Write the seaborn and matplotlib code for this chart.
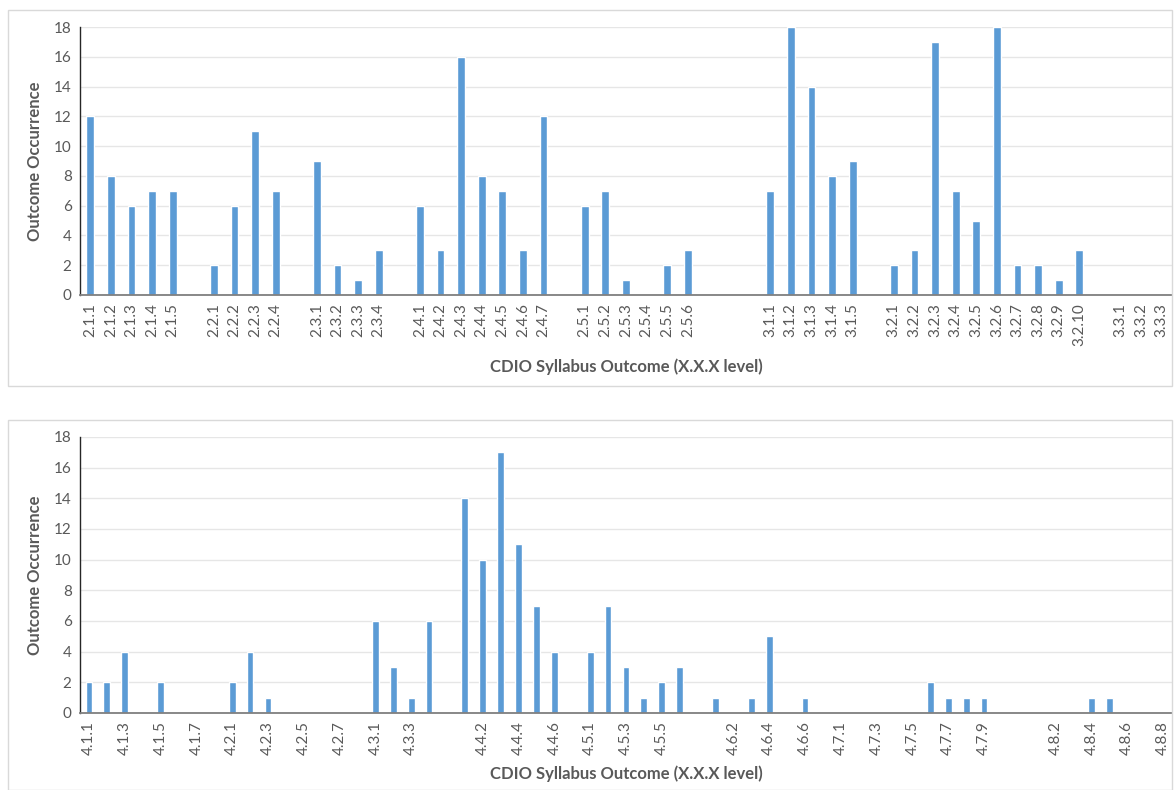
import numpy as np
import pandas as pd
import matplotlib
matplotlib.use("Agg")
import matplotlib.pyplot as plt
import seaborn as sns
from matplotlib.patches import Rectangle

# --- data: top chart (blank labels are the spacer slots between groups) ---
top_labels = [
    "2.1.1", "2.1.2", "2.1.3", "2.1.4", "2.1.5", "",
    "2.2.1", "2.2.2", "2.2.3", "2.2.4", "",
    "2.3.1", "2.3.2", "2.3.3", "2.3.4", "",
    "2.4.1", "2.4.2", "2.4.3", "2.4.4", "2.4.5", "2.4.6", "2.4.7", "",
    "2.5.1", "2.5.2", "2.5.3", "2.5.4", "2.5.5", "2.5.6", "", "", "",
    "3.1.1", "3.1.2", "3.1.3", "3.1.4", "3.1.5", "",
    "3.2.1", "3.2.2", "3.2.3", "3.2.4", "3.2.5", "3.2.6", "3.2.7", "3.2.8", "3.2.9", "3.2.10", "",
    "3.3.1", "3.3.2", "3.3.3",
]
top_values = [
    12, 8, 6, 7, 7, 0,
    2, 6, 11, 7, 0,
    9, 2, 1, 3, 0,
    6, 3, 16, 8, 7, 3, 12, 0,
    6, 7, 1, 0, 2, 3, 0, 0, 0,
    7, 18, 14, 8, 9, 0,
    2, 3, 17, 7, 5, 18, 2, 2, 1, 3, 0,
    0, 0, 0,
]

# --- data: bottom chart ---
bottom_labels = [
    "4.1.1", "4.1.2", "4.1.3", "4.1.4", "4.1.5", "4.1.6", "4.1.7", "",
    "4.2.1", "4.2.2", "4.2.3", "4.2.4", "4.2.5", "4.2.6", "4.2.7", "",
    "4.3.1", "4.3.2", "4.3.3", "4.3.4", "",
    "4.4.1", "4.4.2", "4.4.3", "4.4.4", "4.4.5", "4.4.6", "",
    "4.5.1", "4.5.2", "4.5.3", "4.5.4", "4.5.5", "4.5.6", "",
    "4.6.1", "4.6.2", "4.6.3", "4.6.4", "4.6.5", "4.6.6", "",
    "4.7.1", "4.7.2", "4.7.3", "4.7.4", "4.7.5", "4.7.6", "4.7.7", "4.7.8", "4.7.9", "4.7.10", "",
    "4.8.1", "4.8.2", "4.8.3", "4.8.4", "4.8.5", "4.8.6", "4.8.7", "4.8.8",
]
bottom_values = [
    2, 2, 4, 0, 2, 0, 0, 0,
    2, 4, 1, 0, 0, 0, 0, 0,
    6, 3, 1, 6, 0,
    14, 10, 17, 11, 7, 4, 0,
    4, 7, 3, 1, 2, 3, 0,
    1, 0, 1, 5, 0, 1, 0,
    0, 0, 0, 0, 0, 2, 1, 1, 1, 0, 0,
    0, 0, 0, 1, 1, 0, 0, 0,
]

BAR = "#5B9BD5"
TXT = "#595959"

sns.set_theme(style="white")
plt.rcParams["font.family"] = ["Lato", "DejaVu Sans"]

fig = plt.figure(figsize=(11.76, 7.9), dpi=100)

# panel frames
for y0, h in [(0.511, 0.476), (0.0, 0.468)]:
    fig.add_artist(Rectangle((0.007, y0), 0.99, h, transform=fig.transFigure,
                             fill=False, edgecolor="#D9D9D9", linewidth=1.0))


def draw_panel(ax, labels, values, every, xlab_y):
    df = pd.DataFrame({"pos": np.arange(len(labels)), "count": values})
    sns.barplot(data=df, x="pos", y="count", color=BAR, width=0.38,
                saturation=1, ax=ax)
    ax.set_xlim(-0.5, len(labels) - 0.5)
    ax.set_ylim(0, 18)
    ax.set_yticks(range(0, 19, 2))
    ax.grid(axis="y", color="#E6E6E6", linewidth=1)
    ax.set_axisbelow(True)
    ticks = list(range(0, len(labels), every))
    ax.set_xticks(ticks)
    ax.set_xticklabels([labels[i] for i in ticks], rotation=90)
    ax.tick_params(axis="both", length=0, labelsize=11, labelcolor=TXT, pad=6)
    for s in ["top", "right"]:
        ax.spines[s].set_visible(False)
    ax.spines["left"].set_color("#262626")
    ax.spines["bottom"].set_color("#7F7F7F")
    ax.spines["left"].set_linewidth(1)
    ax.spines["bottom"].set_linewidth(1.3)
    ax.set_ylabel("Outcome Occurrence", fontsize=12, fontweight="bold", color=TXT)
    ax.set_xlabel("CDIO Syllabus Outcome (X.X.X level)", fontsize=12,
                  fontweight="bold", color=TXT)
    ax.yaxis.set_label_coords(-0.034, 0.5)
    ax.xaxis.set_label_coords(0.5, xlab_y)


ax_top = fig.add_axes([0.068, 0.6266, 0.9286, 0.3392])
draw_panel(ax_top, top_labels, top_values, 1, -0.235)

ax_bot = fig.add_axes([0.068, 0.0975, 0.9286, 0.3494])
draw_panel(ax_bot, bottom_labels, bottom_values, 2, -0.19)

fig.savefig("out.png", dpi=100)
